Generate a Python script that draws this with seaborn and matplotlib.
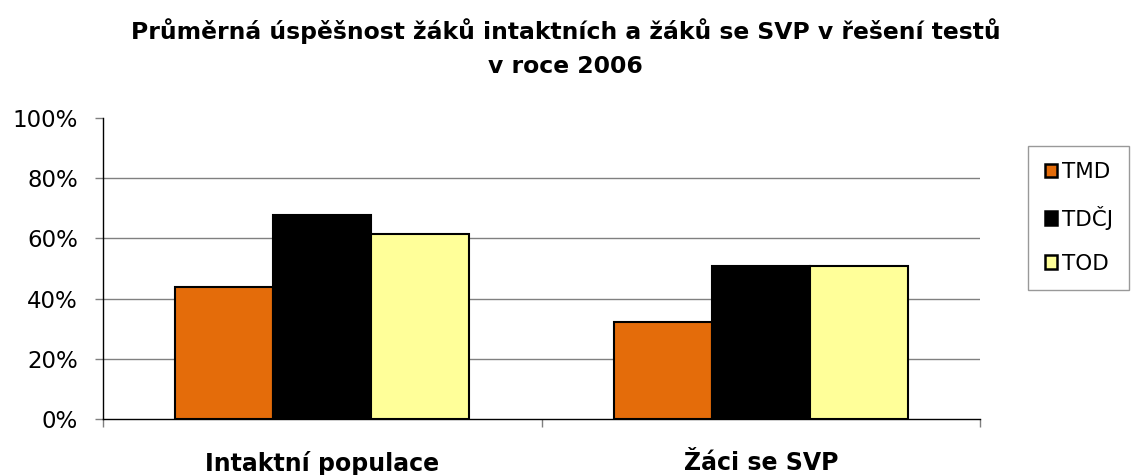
import pandas as pd
import numpy as np
import matplotlib
matplotlib.use("Agg")
import matplotlib.pyplot as plt
import matplotlib.patches as mpatches
import seaborn as sns

# data
skupiny = ["Intaktní populace", "Žáci se SVP"]
testy = ["TMD", "TDČJ", "TOD"]
tmd = [44.0, 32.3]
tdcj = [67.9, 50.8]
tod = [61.6, 50.8]
barvy = ["#E46C0A", "#000000", "#FFFF99"]

datos = pd.DataFrame({
    "skupina": skupiny * 3,
    "test": [t for t in testy for _ in skupiny],
    "hodnota": tmd + tdcj + tod,
})

sns.set_style("white")
plt.rcParams["font.family"] = ["DejaVu Sans"]
plt.rcParams["text.color"] = "black"
plt.rcParams["xtick.color"] = "black"
plt.rcParams["ytick.color"] = "black"

fig = plt.figure(figsize=(11.31, 4.75), dpi=100)
ax = fig.add_axes([0.0911, 0.1179, 0.7754, 0.6337])

sns.barplot(data=datos, x="skupina", y="hodnota", hue="test", order=skupiny,
            hue_order=testy, palette=barvy, width=0.67, edgecolor="black",
            linewidth=1.5, saturation=1, legend=False, ax=ax)

ax.set_xlim(-0.5, 1.5)
ax.set_ylim(0, 100)
ax.set_yticks([0, 20, 40, 60, 80, 100])
ax.set_yticklabels([f"{v}%" for v in [0, 20, 40, 60, 80, 100]], fontsize=16.5)
for v in [20, 40, 60, 80]:
    ax.axhline(v, color="#808080", linewidth=1, zorder=0)
ax.tick_params(axis="y", direction="out", length=6, width=1, color="#808080",
               labelcolor="black", pad=12, left=True)

# category boundary ticks + bold category labels
ax.set_xticks([-0.5, 0.5, 1.5])
ax.set_xticklabels(["", "", ""])
ax.tick_params(axis="x", which="major", direction="out", length=6, width=1, color="#808080", bottom=True)
ax.set_xticks([0, 1], minor=True)
ax.set_xticklabels(skupiny, minor=True, fontsize=17, fontweight="bold")
ax.tick_params(axis="x", which="minor", length=0, pad=23, labelcolor="black")
ax.set_xlabel("")
ax.set_ylabel("")

for s in ["top", "right"]:
    ax.spines[s].set_visible(False)
ax.spines["left"].set_color("black")
ax.spines["bottom"].set_color("black")
ax.spines["left"].set_linewidth(1)
ax.spines["bottom"].set_linewidth(1)

fig.text(0.5, 0.898, "Průměrná úspěšnost žáků intaktních a žáků se SVP v řešení testů\nv roce 2006",
         ha="center", va="center", fontsize=16.9, fontweight="bold", linespacing=1.6,
         color="black")

handles = [mpatches.Patch(facecolor=c, edgecolor="black", linewidth=1.8, label=t)
           for c, t in zip(barvy, testy)]
leg = fig.legend(handles=handles, loc="upper right", bbox_to_anchor=(1129 / 1131, 0.6926),
                 frameon=True, fancybox=False, fontsize=15.5, handlelength=0.6,
                 handleheight=0.6, handletextpad=0.2, labelspacing=1.1,
                 borderpad=0.75, borderaxespad=0)
leg.get_frame().set_edgecolor("#808080")
leg.get_frame().set_linewidth(1)

fig.savefig("out.png", dpi=100)
